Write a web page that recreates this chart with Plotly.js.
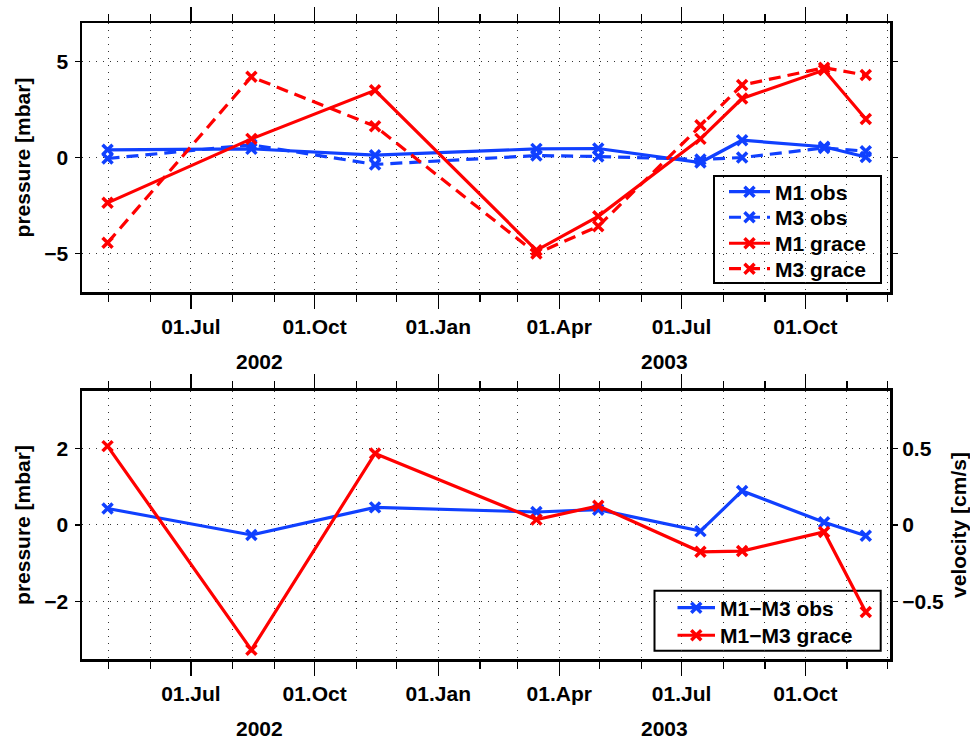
<!DOCTYPE html>
<html>
<head>
<meta charset="utf-8">
<script src="https://cdn.plot.ly/plotly-3.0.1.min.js"></script>
<style>html,body{margin:0;padding:0;background:#fff;}#chart{width:970px;height:739px;}</style>
</head>
<body>
<div id="chart"></div>
<script>
// ---- data ----
const dates = ['2002-04-30','2002-08-15','2002-11-15','2003-03-15','2003-04-30','2003-07-15','2003-08-15','2003-10-15','2003-11-15'];
const m1Obs    = [0.40, 0.45, 0.12, 0.45, 0.47, -0.26, 0.90, 0.56, 0.03];
const m3Obs    = [-0.05, 0.66, -0.36, 0.10, 0.05, -0.10, 0.00, 0.50, 0.33];
const m1Grace  = [-2.36, 0.97, 3.50, -4.83, -3.06, 0.97, 3.07, 4.55, 2.00];
const m3Grace  = [-4.44, 4.20, 1.63, -5.00, -3.58, 1.68, 3.77, 4.67, 4.29];
const diffObs   = [0.43, -0.26, 0.46, 0.34, 0.40, -0.16, 0.89, 0.07, -0.28];
const diffGrace = [2.06, -3.26, 1.87, 0.14, 0.50, -0.70, -0.68, -0.18, -2.27];
const seriesNames = ['M1 obs','M3 obs','M1 grace','M3 grace','M1\u2212M3 obs','M1\u2212M3 grace'];
const yearLabels = ['2002','2003'];
const yearStarts = ['2003-01-01'];
const xRange = ['2002-04-11','2003-12-03'];

const BLUE = '#1040FF', RED = '#FF0000';
const FONT = {family:'Liberation Sans, Arial, sans-serif', size:21, color:'#000', weight:700};

// plot area in pixels (for legend placement helpers)
const PL = 82, PW = 808, PT = 23, PH = 636;
const px = function(x){ return (x - PL) / PW; };
const py = function(y){ return (PT + PH - y) / PH; };

function tr(x, y, name, color, dash, xa, ya, legend){
  return {x:x, y:y, name:name, type:'scatter', mode:'lines+markers', xaxis:xa, yaxis:ya, legend:legend,
    line:{color:color, width:3.2, dash:dash},
    marker:{symbol:'x-thin', size:10, color:color, line:{color:color, width:3.5}}};
}
const traces = [
  tr(dates, m1Obs, seriesNames[0], BLUE, 'solid', 'x', 'y', 'legend'),
  tr(dates, m3Obs, seriesNames[1], BLUE, '12px,7px', 'x', 'y', 'legend2'),
  tr(dates, m1Grace, seriesNames[2], RED, 'solid', 'x', 'y', 'legend3'),
  tr(dates, m3Grace, seriesNames[3], RED, '12px,7px', 'x', 'y', 'legend4'),
  tr(dates, diffObs, seriesNames[4], BLUE, 'solid', 'x2', 'y2', 'legend5'),
  tr(dates, diffGrace, seriesNames[5], RED, 'solid', 'x2', 'y2', 'legend6')
];

function xax(anchor){
  return {anchor:anchor, type:'date', range:xRange, tick0:'2002-01-01', dtick:'M3', tickformat:'%d.%b',
    ticks:'outside', ticklen:14, tickwidth:1.2, tickcolor:'#000', mirror:'ticks',
    showline:true, linecolor:'#000', linewidth:2.5,
    showgrid:true, gridcolor:'#333', griddash:'1px,6px', gridwidth:1,
    minor:{dtick:'M1', tick0:'2002-01-01', ticks:'outside', ticklen:7, tickwidth:1.2, tickcolor:'#000', showgrid:true, gridcolor:'#333', griddash:'1px,6px', gridwidth:1},
    tickfont:FONT, ticklabelstandoff:0, zeroline:false, fixedrange:true};
}
function yax(anchor, domain, range, dtick, title){
  return {anchor:anchor, domain:domain, range:range, dtick:dtick, tick0:0,
    ticks:'outside', ticklen:5, tickwidth:1.2, tickcolor:'#000', mirror:'ticks',
    showline:true, linecolor:'#000', linewidth:2.5,
    showgrid:true, gridcolor:'#333', griddash:'1px,6px', gridwidth:1, zeroline:false,
    tickfont:FONT, ticklabelstandoff:2,
    title:{text:title, font:FONT, standoff:8}};
}

function mid(a, b){ const ta = new Date(a).getTime(), tb = new Date(b).getTime(); return new Date((ta+tb)/2).toISOString().slice(0,10); }
const yearPos = [mid(xRange[0], yearStarts[0]), mid(yearStarts[0], xRange[1])];
const annotations = [];
['x','x2'].forEach(function(xr, i){
  const yr = i === 0 ? 'y domain' : 'y2 domain';
  yearLabels.forEach(function(lab, j){
    annotations.push({text:lab, x:yearPos[j], xref:xr, y:0, yref:yr, yshift:-69, showarrow:false, font:FONT, yanchor:'middle'});
  });
});

// legend boxes (one frame each, entries stacked inside as separate legends)
function legendEntry(originX, rowCenterY, gap){
  return {x:px(originX), xanchor:'left', y:py(rowCenterY - 20.2), yanchor:'top',
    bgcolor:'rgba(0,0,0,0)', borderwidth:0, font:FONT, tracegroupgap:0, itemwidth:gap};
}
const topRows = [191.7, 217.3, 243.3, 268.7];
const botRows = [607.7, 635.3];
const legends = {};
topRows.forEach(function(r, i){ legends[i === 0 ? 'legend' : 'legend' + (i + 1)] = legendEntry(724, r, 41); });
botRows.forEach(function(r, i){ legends['legend' + (i + 5)] = legendEntry(672.5, r, 37.5); });

const shapes = [
  {type:'rect', xref:'paper', yref:'paper', x0:px(714), x1:px(881), y0:py(283), y1:py(176), fillcolor:'rgba(0,0,0,0)', line:{color:'#000', width:2}, layer:'between'},
  {type:'rect', xref:'paper', yref:'paper', x0:px(654.5), x1:px(880.7), y0:py(650.7), y1:py(590.7), fillcolor:'rgba(0,0,0,0)', line:{color:'#000', width:2}, layer:'between'}
];

const layout = Object.assign({
  width:970, height:739, paper_bgcolor:'#fff', plot_bgcolor:'#fff',
  margin:{l:82, r:80, t:23, b:80},
  font:FONT, showlegend:true,
  xaxis: xax('y'),
  xaxis2: xax('y2'),
  yaxis: yax('x', [0.577, 1], [-7, 7], 5, 'pressure [mbar]'),
  yaxis2: yax('x2', [0, 0.4214], [-3.5, 3.5], 2, 'pressure [mbar]'),
  yaxis3: {anchor:'x2', overlaying:'y2', side:'right', range:[-0.875, 0.875], dtick:0.5, tick0:0,
    ticks:'outside', ticklen:5, tickwidth:1.2, tickcolor:'#000', showgrid:false, zeroline:false, showline:false,
    tickfont:FONT, ticklabelstandoff:2, title:{text:'velocity [cm/s]', font:FONT, standoff:8}},
  annotations: annotations,
  shapes: shapes
}, legends);
// invisible trace to activate the right-hand velocity axis
traces.push({x:[dates[0]], y:[0], xaxis:'x2', yaxis:'y3', mode:'markers', marker:{opacity:0}, showlegend:false, hoverinfo:'skip'});

Plotly.newPlot('chart', traces, layout, {staticPlot:true});
</script>
</body>
</html>
